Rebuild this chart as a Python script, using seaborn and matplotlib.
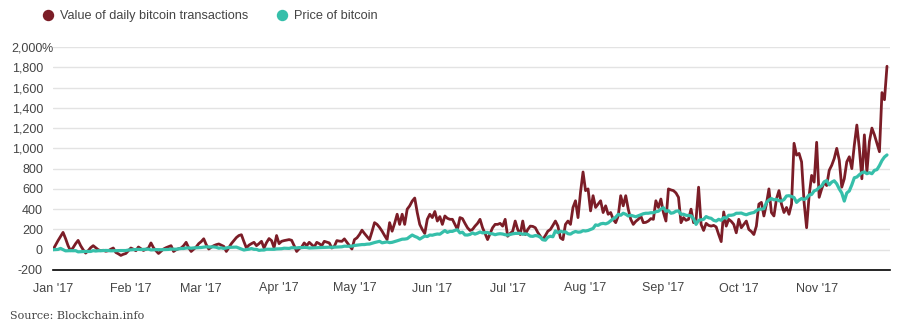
import numpy as np
import pandas as pd
import matplotlib
matplotlib.use("Agg")
import matplotlib.pyplot as plt
from matplotlib.lines import Line2D
import seaborn as sns

# ---------------- data (percent change since 1 Jan 2017) ----------------
start_date = "2017-01-01"

tx_jan = [0, 45, 90, 130, 171, 110, 40, -10, 20, 60, 92, 40, 0, -33, -10, 20, 40, 20, 0, -10,
          -5, -15, -10, 5, 17, -27, -40, -56, -45, -37, -10]
tx_feb = [17, 5, -10, 27, 10, -7, 5, 17, 67, 20, -10, -37, -15, 7, 20, 30, 40, -17, 0, 10,
          17, 40, 73, 20, -17, 5, 27, 60]
tx_mar = [80, 108, 50, 7, 25, 40, 50, 57, 45, 33, -17, 20, 60, 90, 120, 140, 148, 80, 17, 45,
          60, 73, 40, 60, 83, 17, 70, 110, 90, 20, 140]
tx_apr = [60, 83, 90, 95, 100, 93, 40, -17, 10, 27, 67, 40, 73, 50, 27, 73, 60, 40, 83, 75,
          67, 17, 33, 90, 85, 83, 107, 73, 40, 7]
tx_may = [100, 117, 150, 193, 160, 130, 100, 180, 267, 250, 220, 183, 140, 100, 267, 183, 260,
          350, 250, 350, 250, 400, 433, 480, 510, 367, 250, 200, 160, 300, 350]
tx_jun = [317, 377, 283, 327, 250, 333, 310, 300, 300, 250, 200, 317, 307, 260, 217, 190, 200,
          233, 260, 300, 217, 160, 100, 160, 217, 250, 250, 260, 233, 300]
tx_jul = [133, 160, 183, 283, 200, 150, 283, 150, 200, 233, 230, 217, 170, 133, 100, 140, 183,
          200, 240, 283, 233, 117, 100, 250, 283, 250, 417, 483, 317, 567, 767]
tx_aug = [583, 600, 383, 533, 417, 450, 483, 367, 433, 350, 367, 300, 267, 333, 533, 433, 533,
          400, 300, 250, 280, 300, 333, 267, 270, 283, 307, 300, 483, 417, 500]
tx_sep = [367, 283, 600, 590, 583, 560, 517, 267, 317, 290, 300, 400, 267, 300, 617, 250, 190,
          260, 240, 233, 240, 225, 150, 80, 373, 233, 300, 280, 250, 167]
tx_oct = [300, 217, 250, 283, 200, 180, 150, 233, 450, 467, 333, 450, 600, 367, 333, 500, 583,
          450, 367, 417, 350, 450, 1050, 933, 950, 867, 467, 217, 533, 733, 667]
tx_nov = [1060, 517, 600, 667, 633, 783, 833, 900, 1000, 883, 617, 700, 867, 917, 800, 1033,
          1230, 1000, 700, 1133, 767, 1067, 1200, 1133, 1050, 967, 1550, 1480, 1810]

px_jan = [0, 2, 3, 13, 1, -11, -10, -9, -10, -9, -21, -19, -18, -18, -18, -17, -9, -13, -10, -10,
          -8, -7, -8, -11, -10, -8, -8, -8, -8, -8, -3]
px_feb = [-1, 1, 3, 4, 2, 3, 5, 6, -2, 0, 1, 0, 0, 1, 1, 3, 6, 6, 5, 9, 12, 12, 17, 18, 15, 18,
          19, 19]
px_mar = [22, 26, 29, 27, 27, 28, 24, 15, 19, 12, 18, 23, 24, 25, 26, 17, 7, -3, 2, 5, 12, 4, 4,
          -6, -3, -3, 5, 5, 4, 4, 8]
px_apr = [9, 10, 15, 14, 13, 20, 19, 18, 21, 21, 23, 22, 17, 18, 19, 19, 21, 21, 23, 25, 25, 24,
          25, 25, 27, 29, 35, 34, 35, 35]
px_may = [42, 45, 49, 51, 51, 55, 56, 64, 71, 77, 83, 68, 72, 77, 70, 73, 80, 88, 96, 104, 105,
          109, 128, 145, 132, 122, 105, 120, 135, 130, 145]
px_jun = [143, 150, 155, 153, 171, 189, 171, 181, 181, 191, 197, 166, 173, 146, 145, 151, 166,
          154, 163, 175, 166, 169, 171, 159, 157, 148, 155, 158, 155, 148]
px_jul = [144, 151, 157, 161, 162, 162, 152, 157, 151, 134, 132, 140, 136, 123, 98, 94, 124, 133,
          128, 186, 168, 183, 175, 177, 158, 154, 170, 180, 173, 175, 188]
px_aug = [185, 190, 200, 210, 245, 240, 255, 260, 255, 265, 285, 305, 320, 350, 340, 360, 350,
          333, 340, 333, 325, 335, 345, 355, 360, 360, 365, 365, 375, 380, 400]
px_sep = [415, 380, 385, 360, 365, 380, 383, 350, 350, 340, 338, 335, 305, 250, 290, 295, 300,
          327, 315, 310, 290, 283, 300, 290, 317, 312, 340, 340, 345, 360]
px_oct = [360, 362, 352, 345, 355, 362, 367, 385, 400, 400, 405, 465, 490, 505, 492, 497, 483,
          480, 495, 530, 533, 525, 515, 467, 490, 505, 495, 510, 540, 545, 580]
px_nov = [590, 615, 630, 670, 683, 640, 667, 680, 650, 600, 560, 480, 560, 580, 640, 710, 717,
          740, 760, 767, 750, 760, 750, 783, 790, 830, 880, 915, 935]

series_names = ["Value of daily bitcoin transactions", "Price of bitcoin"]
month_labels = ["Jan '17", "Feb '17", "Mar '17", "Apr '17", "May '17", "Jun '17",
                "Jul '17", "Aug '17", "Sep '17", "Oct '17", "Nov '17"]
y_ticks = [-200, 0, 200, 400, 600, 800, 1000, 1200, 1400, 1600, 1800, 2000]
y_labels = ["-200", "0", "200", "400", "600", "800", "1,000", "1,200", "1,400", "1,600",
            "1,800", "2,000"]
source_text = "Source: Blockchain.info"

tx_value = tx_jan + tx_feb + tx_mar + tx_apr + tx_may + tx_jun + tx_jul + tx_aug + tx_sep + tx_oct + tx_nov
price = px_jan + px_feb + px_mar + px_apr + px_may + px_jun + px_jul + px_aug + px_sep + px_oct + px_nov

# ---------------- style ----------------
RED = "#7b1d27"
TEAL = "#36bfaa"
TEXT = "#444444"

sns.set_style("white")
plt.rcParams["font.family"] = ["Liberation Sans", "DejaVu Sans"]

n = len(tx_value)
dates = pd.date_range(start_date, periods=n, freq="D")
df = pd.DataFrame({
    "date": list(dates) + list(dates),
    "value": tx_value + price,
    "series": [series_names[0]] * n + [series_names[1]] * len(price),
})

W, H = 906, 332
PX = 0.72  # points per pixel at 100 dpi
fig = plt.figure(figsize=(W / 100, H / 100), dpi=100)
ax = fig.add_axes([53 / W, 62 / H, (890 - 53) / W, 223 / H])

sns.lineplot(data=df[df.series == series_names[0]], x="date", y="value", color=RED,
             linewidth=2.0, ax=ax, legend=False)
sns.lineplot(data=df[df.series == series_names[1]], x="date", y="value", color=TEAL,
             linewidth=2.3, ax=ax, legend=False)

t0 = pd.Timestamp(start_date)
ax.set_xlim(t0, t0 + pd.Timedelta(days=333.2))
ax.set_ylim(-200, 2000)

month_ticks = pd.date_range(start_date, periods=len(month_labels), freq="MS")
ax.set_xticks(month_ticks)
ax.set_xticklabels(month_labels)
ax.set_yticks(y_ticks)
ax.set_yticklabels(y_labels)
ax.set_xlabel("")
ax.set_ylabel("")

for s in ["top", "right", "left"]:
    ax.spines[s].set_visible(False)
ax.spines["bottom"].set_color("black")
ax.spines["bottom"].set_linewidth(1.2)

ax.tick_params(axis="x", direction="out", length=5, width=1.2, color="black",
               labelsize=9, labelcolor=TEXT, pad=4)
ax.tick_params(axis="y", length=0, labelsize=9, labelcolor=TEXT, pad=10 * PX)

for yv in y_ticks[1:]:
    ax.axhline(yv, color="#e3e3e3", linewidth=1, zorder=0)

# "%" suffix on the top label
ax.annotate("%", xy=(0, 2000), xycoords=("axes fraction", "data"), xytext=(-11.5 * PX, 0),
            textcoords="offset points", ha="left", va="center_baseline", fontsize=9, color=TEXT)

handles = [Line2D([], [], marker="o", linestyle="none", color=RED, markersize=7.2),
           Line2D([], [], marker="o", linestyle="none", color=TEAL, markersize=7.2)]
fig.legend(handles, series_names, loc="center left", bbox_to_anchor=(41.75 / W, 1 - 16 / H),
           ncol=2, frameon=False, fontsize=9.2, handlelength=1.0, handletextpad=0.46,
           columnspacing=2.1, borderpad=0, borderaxespad=0, labelcolor=TEXT)

fig.text(10 / W, 1 - 316 / H, source_text, fontsize=8.0, color=TEXT, va="center",
         ha="left", family=["DejaVu Serif"])

fig.savefig("out.png", dpi=100)
